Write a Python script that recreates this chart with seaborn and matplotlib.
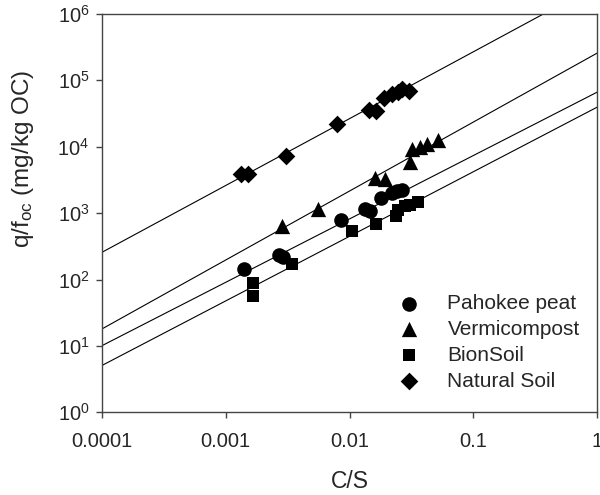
import numpy as np
import pandas as pd
import matplotlib
matplotlib.use("Agg")
import matplotlib.pyplot as plt
import matplotlib.ticker as mticker
import seaborn as sns

# ---------------- data ----------------
series_names = ["Pahokee peat", "Vermicompost", "BionSoil", "Natural Soil"]

peat_x = [0.0014, 0.0027, 0.0029, 0.0086, 0.0133, 0.0147, 0.0180, 0.0219, 0.0241, 0.0265]
peat_y = [143, 234, 216, 790, 1140, 1080, 1710, 2000, 2160, 2230]

vermi_x = [0.00286, 0.00552, 0.0161, 0.0194, 0.0309, 0.0318, 0.0372, 0.0422, 0.0522]
vermi_y = [641, 1156, 3350, 3270, 5900, 9200, 10000, 11000, 12800]

bion_x = [0.00167, 0.00167, 0.0034, 0.0104, 0.0164, 0.0238, 0.0248, 0.0281, 0.0309, 0.0360]
bion_y = [90, 57, 172, 540, 680, 908, 1117, 1297, 1320, 1493]

nat_x = [0.00134, 0.00152, 0.00306, 0.00798, 0.0145, 0.0164, 0.0190, 0.0219, 0.0248, 0.0264, 0.0305]
nat_y = [3890, 3890, 7260, 22000, 35800, 34600, 53700, 62400, 66800, 73300, 70000]

# Freundlich fit parameters: log10(Kf) and exponent n  (q/foc = Kf * (C/S)^n)
fit_logK = [4.820, 5.408, 4.594, 6.434]
fit_n = [0.954, 1.038, 0.972, 1.006]

x_tick_values = [0.0001, 0.001, 0.01, 0.1, 1]
x_tick_labels = ["0.0001", "0.001", "0.01", "0.1", "1"]
y_tick_values = [1, 10, 100, 1000, 10000, 100000, 1000000]

# ---------------- style ----------------
sns.set_style("ticks")
plt.rcParams["font.family"] = ["Liberation Sans", "DejaVu Sans"]
plt.rcParams["mathtext.fontset"] = "custom"
plt.rcParams["mathtext.rm"] = "Liberation Sans"
plt.rcParams["mathtext.it"] = "Liberation Sans:italic"
plt.rcParams["mathtext.bf"] = "Liberation Sans:bold"

frames = []
for name, xs, ys in zip(series_names,
                        [peat_x, vermi_x, bion_x, nat_x],
                        [peat_y, vermi_y, bion_y, nat_y]):
    frames.append(pd.DataFrame({"C/S": xs, "q": ys, "Sorbent": name}))
df = pd.concat(frames, ignore_index=True)

fig = plt.figure(figsize=(6.0, 4.95), dpi=100)
ax = fig.add_axes([0.170, 0.167, 0.825, 0.805])

ax.set_xscale("log")
ax.set_yscale("log")
ax.set_xlim(1e-4, 1)
ax.set_ylim(1, 1e6)

# fit lines
xline = np.logspace(-4, 0, 50)
for lk, n in zip(fit_logK, fit_n):
    ax.plot(xline, 10 ** lk * xline ** n, color="black", lw=0.8, zorder=1)

markers = {"Pahokee peat": "o", "Vermicompost": "^", "BionSoil": "s", "Natural Soil": "D"}
sizes_pt = {"Pahokee peat": 10.5, "Vermicompost": 11, "BionSoil": 8.5, "Natural Soil": 9}

for name in series_names:
    sub = df[df["Sorbent"] == name]
    sns.scatterplot(data=sub, x="C/S", y="q", marker=markers[name], color="black",
                    s=sizes_pt[name] ** 2, edgecolor="black", linewidth=0,
                    ax=ax, label=name, zorder=3)

ax.set_xticks(x_tick_values)
ax.xaxis.set_major_formatter(mticker.FixedFormatter(x_tick_labels))
ax.set_yticks(y_tick_values)
ax.xaxis.set_minor_locator(mticker.NullLocator())
ax.yaxis.set_minor_locator(mticker.NullLocator())

spine_color = "#444444"
for sp in ax.spines.values():
    sp.set_visible(True)
    sp.set_color(spine_color)
    sp.set_linewidth(1.0)

ax.tick_params(axis="both", which="major", direction="out", length=4, width=1.0,
               color=spine_color, labelsize=14.5, top=False, right=False)
ax.tick_params(axis="x", pad=10)
ax.tick_params(axis="y", pad=5)

ax.set_xlabel("C/S", fontsize=16.5, labelpad=14)
ax.set_ylabel(r"q/f$_\mathregular{oc}$ (mg/kg OC)", fontsize=17.5)
ax.yaxis.set_label_coords(-0.133, 0.636)

leg = ax.legend(loc="upper left", bbox_to_anchor=(0.578, 0.297), frameon=False,
                fontsize=15, labelspacing=0.33, handlelength=2.0, handletextpad=0.85,
                borderpad=0, borderaxespad=0)

fig.savefig("out.png", dpi=100)
